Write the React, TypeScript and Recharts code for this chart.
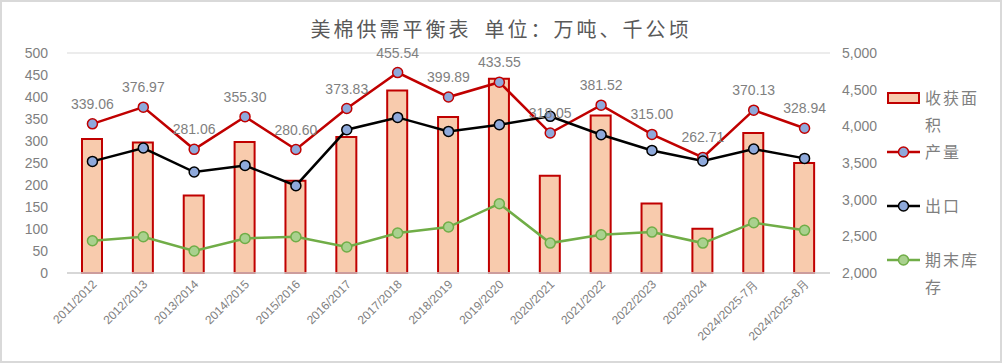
import { ComposedChart, Bar, Line, XAxis, YAxis, CartesianGrid, LabelList, Legend } from "recharts";

const seasons = [
  "2011/2012", "2012/2013", "2013/2014", "2014/2015", "2015/2016",
  "2016/2017", "2017/2018", "2018/2019", "2019/2020", "2020/2021",
  "2021/2022", "2022/2023", "2023/2024", "2024/2025-7月", "2024/2025-8月",
];
// 千公顷, right axis
const harvestedArea = [3827, 3781, 3058, 3786, 3259, 3855, 4490, 4127, 4650, 3327, 4149, 2949, 2604, 3909, 3500];
// 万吨, left axis
const production = [339.06, 376.97, 281.06, 355.3, 280.6, 373.83, 455.54, 399.89, 433.55, 318.05, 381.52, 315.0, 262.71, 370.13, 328.94];
const exports = [253.6, 284, 229.5, 244.5, 198.4, 325.7, 353.6, 321.8, 337, 356, 314.3, 278.6, 254.5, 281.8, 260.5];
const endingStocks = [73.4, 82.5, 50, 78.6, 82.5, 59, 90.9, 104.5, 157.5, 68, 87, 93, 68, 114.3, 97];

const leftTicks = [0, 50, 100, 150, 200, 250, 300, 350, 400, 450, 500];
const rightTicks = [2000, 2500, 3000, 3500, 4000, 4500, 5000];

const data = seasons.map((s, i) => ({
  season: s,
  area: harvestedArea[i],
  prod: production[i],
  exp: exports[i],
  stock: endingStocks[i],
}));

const GRAY = "#7f7f7f";
const CJK = '"Noto Sans CJK SC", sans-serif';
const SANS = '"Liberation Sans", sans-serif';

function XTick(props: any) {
  const { x, y, payload } = props;
  return (
    <text
      x={x + 5}
      y={y + 4}
      textAnchor="end"
      transform={`rotate(-45, ${x + 5}, ${y + 4})`}
      fill={GRAY}
      fontSize={12}
      fontFamily={SANS}
    >
      {payload.value}
    </text>
  );
}

const legendItems = [
  { name: "收获面积", type: "bar", stroke: "#C00000", fill: "#F8CBAD" },
  { name: "产量", type: "line", stroke: "#C00000", fill: "#8EA9DB" },
  { name: "出口", type: "line", stroke: "#000000", fill: "#8EA9DB" },
  { name: "期末库存", type: "line", stroke: "#70AD47", fill: "#A9D18E" },
];

function LegendBox() {
  return (
    <div style={{ position: "relative", width: 110, height: 230 }}>
      {legendItems.map((it, i) => (
        <div key={it.name} style={{ position: "absolute", left: 0, top: i * 54, display: "flex", alignItems: "flex-start" }}>
          <svg width={36} height={26} style={{ flex: "none" }}>
            {it.type === "bar" ? (
              <rect x={2} y={8} width={31} height={10} fill={it.fill} stroke={it.stroke} strokeWidth={2} />
            ) : (
              <g>
                <line x1={1} y1={13} x2={34} y2={13} stroke={it.stroke} strokeWidth={2.5} />
                <circle cx={17.5} cy={13} r={5} fill={it.fill} stroke={it.stroke} strokeWidth={1.5} />
              </g>
            )}
          </svg>
          <div
            style={{
              width: 58,
              marginLeft: 3,
              fontFamily: CJK,
              fontSize: 16,
              letterSpacing: 2,
              lineHeight: "27px",
              color: GRAY,
              marginTop: -1,
            }}
          >
            {it.name}
          </div>
        </div>
      ))}
    </div>
  );
}

export default function App() {
  return (
    <div
      style={{
        position: "absolute",
        left: 0,
        top: 0,
        width: 1002,
        height: 363,
        background: "#fff",
        overflow: "hidden",
      }}
    >
      <div
        style={{
          position: "absolute",
          left: 0,
          top: 0,
          width: 998,
          height: 359,
          border: "2px solid #d9d9d9",
          pointerEvents: "none",
        }}
      />
      <div
        style={{
          position: "absolute",
          left: 0,
          width: 1002,
          top: 17,
          textAlign: "center",
        }}
      >
        <span
          style={{
            display: "inline-block",
            fontFamily: CJK,
            fontSize: 20,
            letterSpacing: 3,
            color: "#595959",
            lineHeight: "24px",
          }}
        >
          美棉供需平衡表{"\u2002"}单位：万吨、千公顷
        </span>
      </div>
      <ComposedChart
        width={1002}
        height={363}
        data={data}
        margin={{ top: 53, right: 112, bottom: 0, left: 0 }}
        barSize={20}
      >
        <CartesianGrid vertical={false} stroke="#d9d9d9" strokeWidth={1.2} />
        <XAxis
          dataKey="season"
          height={90}
          interval={0}
          tickLine={false}
          axisLine={{ stroke: "#d0d0d0", strokeWidth: 1.5 }}
          tick={<XTick />}
        />
        <YAxis
          yAxisId="left"
          orientation="left"
          width={67}
          domain={[0, 500]}
          ticks={leftTicks}
          axisLine={false}
          tickLine={false}
          tickMargin={13}
          tick={{ fill: GRAY, fontSize: 14, fontFamily: SANS }}
        />
        <YAxis
          yAxisId="right"
          orientation="right"
          width={60}
          domain={[2000, 5000]}
          ticks={rightTicks}
          axisLine={false}
          tickLine={false}
          tickMargin={6}
          tickFormatter={(v: number) => v.toLocaleString("en-US")}
          tick={{ fill: GRAY, fontSize: 14, fontFamily: SANS }}
        />
        <Legend
          layout="horizontal"
          verticalAlign="middle"
          align="center"
          wrapperStyle={{ left: 886, top: 85, width: 112, height: 230 }}
          content={() => <LegendBox />}
        />
        <Bar
          yAxisId="right"
          dataKey="area"
          name="收获面积"
          fill="#F8CBAD"
          stroke="#C00000"
          strokeWidth={2}
          isAnimationActive={false}
        />
        <Line
          yAxisId="left"
          dataKey="prod"
          name="产量"
          stroke="#C00000"
          strokeWidth={2.5}
          dot={{ r: 5, fill: "#8EA9DB", stroke: "#C00000", strokeWidth: 1.5 }}
          isAnimationActive={false}
        >
          <LabelList
            dataKey="prod"
            position="top"
            offset={15}
            formatter={(v: any) => Number(v).toFixed(2)}
            fill={GRAY}
            fontSize={14}
            fontFamily={SANS}
          />
        </Line>
        <Line
          yAxisId="left"
          dataKey="exp"
          name="出口"
          stroke="#000000"
          strokeWidth={2.5}
          dot={{ r: 5, fill: "#8EA9DB", stroke: "#000000", strokeWidth: 1.5 }}
          isAnimationActive={false}
        />
        <Line
          yAxisId="left"
          dataKey="stock"
          name="期末库存"
          stroke="#70AD47"
          strokeWidth={2.5}
          dot={{ r: 5, fill: "#A9D18E", stroke: "#70AD47", strokeWidth: 1.5 }}
          isAnimationActive={false}
        />
      </ComposedChart>
    </div>
  );
}
